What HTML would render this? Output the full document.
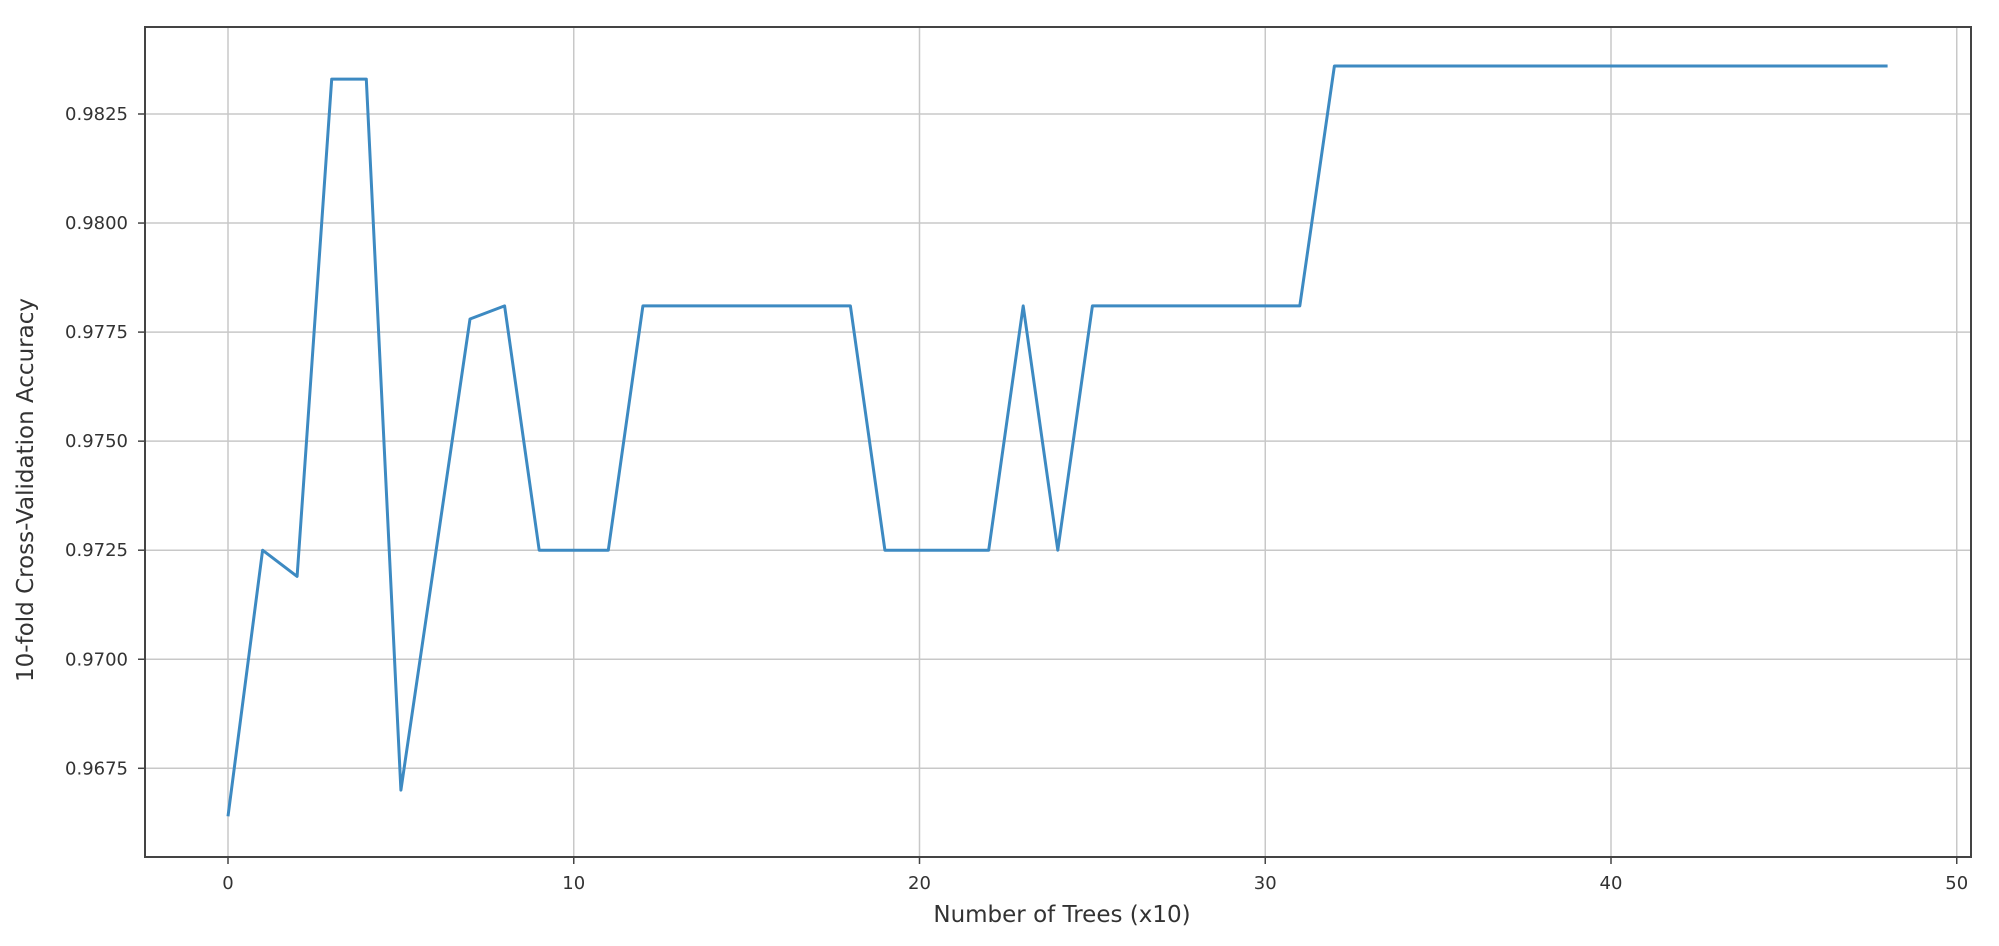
<!DOCTYPE html>
<html><head><meta charset="utf-8"><style>
body{margin:0;background:#fff}
svg{display:block;font-family:"DejaVu Sans","Liberation Sans",sans-serif}
</style></head><body>
<svg id="chart" width="1999" height="946" viewBox="0 0 1999 946" xmlns="http://www.w3.org/2000/svg">
<g id="grid"></g>
<g id="axes"></g>
<path id="line" fill="none" stroke="#3d8ac2" stroke-width="3" stroke-linejoin="round"/>
<rect x="145" y="27" width="1826" height="830" fill="none" stroke="#444" stroke-width="2"/>
<text x="1062" y="922" text-anchor="middle" font-size="23" fill="#333">Number of Trees (x10)</text>
<text transform="translate(33,490) rotate(-90)" text-anchor="middle" font-size="23" fill="#333">10-fold Cross-Validation Accuracy</text>
</svg>
<script>
const xs = [0,1,2,3,4,5,6,7,8,9,10,11,12,13,14,15,16,17,18,19,20,21,22,23,24,25,26,27,28,29,30,31,32,33,34,35,36,37,38,39,40,41,42,43,44,45,46,47,48];
const accuracy = [0.9664,0.9725,0.9719,0.9833,0.9833,0.9670,0.9724,0.9778,0.9781,0.9725,0.9725,0.9725,0.9781,0.9781,0.9781,0.9781,0.9781,0.9781,0.9781,0.9725,0.9725,0.9725,0.9725,0.9781,0.9725,0.9781,0.9781,0.9781,0.9781,0.9781,0.9781,0.9781,0.9836,0.9836,0.9836,0.9836,0.9836,0.9836,0.9836,0.9836,0.9836,0.9836,0.9836,0.9836,0.9836,0.9836,0.9836,0.9836,0.9836];
const xTicks = [0,10,20,30,40,50];
const yTicks = [0.9675,0.9700,0.9725,0.9750,0.9775,0.9800,0.9825];
const yTickLabels = ["0.9675","0.9700","0.9725","0.9750","0.9775","0.9800","0.9825"];

const X = v => 228 + v * 34.575;
const Y = v => 114 + (0.9825 - v) / 0.0025 * 109.05;
const NS = "http://www.w3.org/2000/svg";
const grid = document.getElementById('grid'), axes = document.getElementById('axes');
function mk(tag, attrs, parent){const e=document.createElementNS(NS,tag);for(const k in attrs)e.setAttribute(k,attrs[k]);parent.appendChild(e);return e;}
xTicks.forEach(t=>{
  const x=X(t);
  const g=mk('line',{x1:x,x2:x,y1:27,y2:857,stroke:'#c8c8c8','stroke-width':1.5},grid);
  
  
  const tk=mk('line',{x1:x,x2:x,y1:857,y2:864,stroke:'#444','stroke-width':1.5},axes);
  
  
  const tx=mk('text',{x:x,y:889,'text-anchor':'middle','font-size':18,fill:'#333'},axes);
  tx.textContent=t;
  
  
});
yTicks.forEach((t,i)=>{
  const y=Y(t);
  const g=mk('line',{x1:145,x2:1971,y1:y,y2:y,stroke:'#c8c8c8','stroke-width':1.5},grid);
  
  
  const tk=mk('line',{x1:138,x2:145,y1:y,y2:y,stroke:'#444','stroke-width':1.5},axes);
  
  
  const tx=mk('text',{x:128,y:y+6,'text-anchor':'end','font-size':18,fill:'#333'},axes);
  tx.textContent=yTickLabels[i];
  
  
});
document.getElementById('line').setAttribute('d', xs.map((x,i)=>(i?'L':'M')+X(x).toFixed(1)+','+Y(accuracy[i]).toFixed(1)).join(' '));
</script>
</body></html>
